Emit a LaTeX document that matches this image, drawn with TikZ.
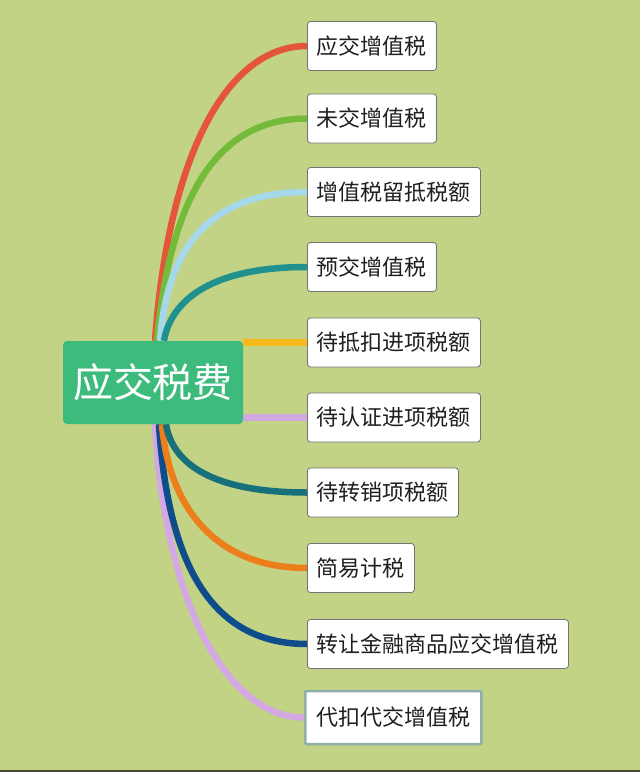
\documentclass[tikz,border=0pt]{standalone}
\usepackage{fontspec}
\newfontfamily\cjk{Noto Sans CJK SC}
\usetikzlibrary{backgrounds}
\definecolor{bgc}{HTML}{C2D386}
\definecolor{rootg}{HTML}{3DBB7C}
\definecolor{cred}{HTML}{E4553A}
\definecolor{cgreen}{HTML}{74BB3A}
\definecolor{clblue}{HTML}{A6D8EC}
\definecolor{cteal}{HTML}{21918D}
\definecolor{cyellow}{HTML}{F6B81A}
\definecolor{clilac}{HTML}{D2A8E0}
\definecolor{cdteal}{HTML}{17707A}
\definecolor{corange}{HTML}{EC7F1C}
\definecolor{cdblue}{HTML}{0F4C8C}
\definecolor{clilacb}{HTML}{D4A8E2}
\definecolor{selborder}{HTML}{8FB0A8}
\begin{document}
\begin{tikzpicture}[x=1pt,y=-1pt,
  leaf/.style={draw=black!55, line width=0.8pt, fill=white, rounded corners=3pt,
    anchor=west, minimum height=49pt, inner xsep=9.5pt, inner ysep=0pt,
    font=\cjk\fontsize{22}{22}\selectfont, text=black!88},
  selleaf/.style={leaf, draw=selborder, line width=2.5pt, minimum height=53pt, inner xsep=11pt, rounded corners=1pt},
  root/.style={fill=rootg, rounded corners=4pt, minimum width=180pt, minimum height=83pt,
    inner sep=0pt, font=\cjk\fontsize{40}{40}\selectfont, text=white},
  branch/.style={line width=6.5pt}]
\useasboundingbox (0,0) rectangle (640,772);
\node[root] (c) at (153,382.5) {应交税费};
\node[leaf] (n1) at (307,46) {应交增值税};
\node[leaf] (n2) at (307,118.5) {未交增值税};
\node[leaf] (n3) at (307,192) {增值税留抵税额};
\node[leaf] (n4) at (307,267) {预交增值税};
\node[leaf] (n5) at (307,342.5) {待抵扣进项税额};
\node[leaf] (n6) at (307,417.5) {待认证进项税额};
\node[leaf] (n7) at (307,492.5) {待转销项税额};
\node[leaf] (n8) at (307,568) {简易计税};
\node[leaf] (n9) at (307,644) {转让金融商品应交增值税};
\node[selleaf] (n10) at (304,717.5) {代扣代交增值税};
\begin{scope}[on background layer]
\fill[bgc] (0,0) rectangle (640,772);
\fill[black!65!bgc] (0,769.5) rectangle (640,772);
\draw[branch, cred] ([xshift=2pt]c.north) .. controls +(13,-181) and +(-82,0) .. (n1.west);
\draw[branch, cgreen] ([xshift=4pt]c.north) .. controls +(13,-141) and +(-92,0) .. (n2.west);
\draw[branch, clblue] ([xshift=7pt]c.north) .. controls +(6,-81) and +(-107,0) .. (n3.west);
\draw[branch, cteal] ([xshift=11pt]c.north) .. controls +(6,-36) and +(-102,0) .. (n4.west);
\draw[branch, cyellow] (n5.west -| c.east) -- (n5.west);
\draw[branch, clilac] (n6.west -| c.east) -- (n6.west);
\draw[branch, clilacb] ([xshift=2pt]c.south) .. controls +(10,181) and +(-76,0) .. (n10.west);
\draw[branch, cdblue] ([xshift=6pt]c.south) .. controls +(9,146) and +(-92,0) .. (n9.west);
\draw[branch, corange] ([xshift=9pt]c.south) .. controls +(6,76) and +(-97,0) .. (n8.west);
\draw[branch, cdteal] ([xshift=13pt]c.south) .. controls +(6,38) and +(-97,0) .. (n7.west);
\end{scope}
\end{tikzpicture}
\end{document}
